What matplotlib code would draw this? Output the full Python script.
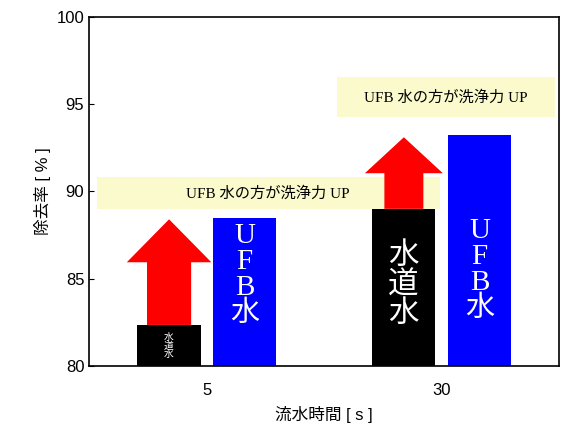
import numpy as np
import matplotlib.pyplot as plt
from matplotlib.patches import Polygon, Rectangle

plt.rcParams['font.family'] = ['Liberation Sans', 'Noto Sans CJK JP', 'DejaVu Sans']

groups = ["5", "30"]
tap_water = [82.35, 89.0]
ufb_water = [88.45, 93.25]
arrow_tips = [88.4, 93.1]
note = "UFB 水の方が洗浄力 UP"

x = np.arange(len(groups))
w = 0.27
fig = plt.figure(figsize=(5.72, 4.42), dpi=100)
ax = fig.add_axes([0.156, 0.172, 0.821, 0.79])

ax.bar(x - 0.163, np.array(tap_water) - 80, w, bottom=80, color='black')
ax.bar(x + 0.16, np.array(ufb_water) - 80, w, bottom=80, color='#0000ff')

serif = ['Liberation Serif', 'Noto Sans CJK JP']
# arrows from tap water bar up
for i, (base, tip) in enumerate(zip(tap_water, arrow_tips)):
    cx = x[i] - 0.162
    sw = 0.094 if i == 0 else 0.083
    hw = 0.18 if i == 0 else 0.166
    hl = 2.46 if i == 0 else 2.06
    pts = [(cx - sw, base), (cx - sw, tip - hl), (cx - hw, tip - hl), (cx, tip),
           (cx + hw, tip - hl), (cx + sw, tip - hl), (cx + sw, base)]
    ax.add_patch(Polygon(pts, closed=True, color='#ff0000', lw=0, zorder=3))

# bar labels
ax.text(x[0] - 0.163, 81.15, "水\n道\n水", color='white', fontsize=7,
        ha='center', va='center', linespacing=0.95, family=serif, zorder=4)
ax.text(x[1] - 0.163, 84.6, "水\n道\n水", color='white', fontsize=22,
        ha='center', va='center', linespacing=1.0, family=serif, zorder=4)
for i, top in zip(x, [85.2, 85.5]):
    ax.text(i + 0.16, top, "U\nF\nB\n水", color='white', fontsize=21,
            ha='center', va='center', linespacing=1.0, family=serif, zorder=4)

# notes
boxes = [(-0.47, 0.99, 89.0, 90.8), (0.554, 1.481, 94.25, 96.55)]
for x0, x1, y0, y1 in boxes:
    ax.add_patch(Rectangle((x0, y0), x1 - x0, y1 - y0, color='#fafacc', lw=0, zorder=2))
    ax.text((x0 + x1) / 2, (y0 + y1) / 2, note, fontsize=11, ha='center', va='center',
            family=serif, zorder=4)

ax.set_xlim(-0.502, 1.498)
ax.set_ylim(80, 100)
ax.set_xticks(x)
ax.set_xticklabels(groups, fontsize=12)
ax.set_yticks([80, 85, 90, 95, 100])
ax.tick_params(axis='y', direction='in', labelsize=12)
ax.tick_params(axis='x', length=0, pad=12)
ax.set_ylabel("除去率 [ % ]", fontsize=12)
ax.set_xlabel("流水時間 [ s ]", fontsize=12, labelpad=6)
for s in ax.spines.values():
    s.set_linewidth(1.2)

fig.savefig("out.png", dpi=100)
